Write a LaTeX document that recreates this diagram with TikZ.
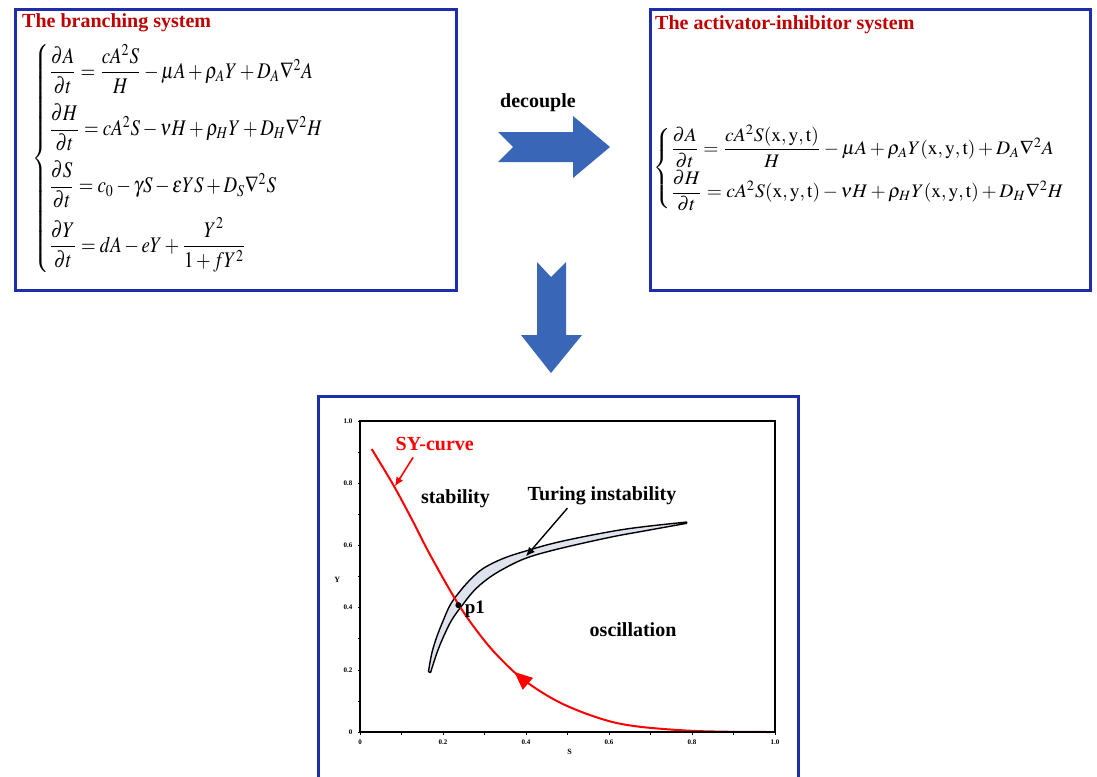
\documentclass[tikz,border=0pt]{standalone}
\usepackage{amsmath}
\usepackage{mathptmx}
\usepackage{fontspec}
\setmainfont{Liberation Serif}
\usetikzlibrary{arrows.meta}
\definecolor{boxblue}{RGB}{30,45,170}
\definecolor{arrowblue}{RGB}{58,102,184}
\definecolor{titlered}{RGB}{192,0,0}
\definecolor{bandfill}{RGB}{222,227,238}
\tikzset{
  bbox/.style={draw=boxblue,line width=3pt,fill=white,inner sep=0pt,anchor=north west},
  boxtitle/.style={anchor=base west,inner sep=0pt,text=titlered,font=\bfseries\fontsize{20}{24}\selectfont},
  blockarrow/.style={fill=arrowblue,draw=none},
  plotlabel/.style={inner sep=0pt,font=\bfseries\fontsize{20}{24}\selectfont},
  ticklabel/.style={inner sep=0pt,font=\bfseries\fontsize{7}{8}\selectfont},
  eqnode/.style={anchor=north west,inner sep=0pt}
}
\begin{document}
\begin{tikzpicture}[x=1pt,y=-1pt]
\useasboundingbox (0,0) rectangle (1097,776);
\clip (0,0) rectangle (1097,776);
% boxes
\node[bbox,minimum width=441pt,minimum height=280.5pt] (branch) at (14,8.5) {};
\node[bbox,minimum width=440.5pt,minimum height=280.5pt] (activ) at (648.5,8.5) {};
\node[bbox,minimum width=480pt,minimum height=400pt] (plotbox) at (316.5,394.5) {};
% titles
\node[boxtitle] (t1) at (22,27.5) {The branching system};
\node[boxtitle] (t2) at (655,29.5) {The activator-inhibitor system};
% equations
\node[eqnode] (eqL) at (32,44) {\resizebox*{311pt}{228pt}{$\displaystyle\begin{cases}
\dfrac{\partial A}{\partial t}=\dfrac{cA^2S}{H}-\mu A+\rho_AY+D_A\nabla^2A\\[7pt]
\dfrac{\partial H}{\partial t}=cA^2S-\nu H+\rho_HY+D_H\nabla^2H\\[7pt]
\dfrac{\partial S}{\partial t}=c_0-\gamma S-\varepsilon YS+D_S\nabla^2S\\[7pt]
\dfrac{\partial Y}{\partial t}=dA-eY+\dfrac{Y^2}{1+fY^2}
\end{cases}$}};
\node[eqnode] (eqR) at (653,125) {\resizebox*{432pt}{86pt}{$\displaystyle\begin{cases}
\dfrac{\partial A}{\partial t}=\dfrac{cA^2S(\mathrm{x,y,t})}{H}-\mu A+\rho_AY(\mathrm{x,y,t})+D_A\nabla^2A\\[4pt]
\dfrac{\partial H}{\partial t}=cA^2S(\mathrm{x,y,t})-\nu H+\rho_HY(\mathrm{x,y,t})+D_H\nabla^2H
\end{cases}$}};
% decouple arrow
\node[inner sep=0pt,font=\bfseries\fontsize{20}{24}\selectfont] (dec) at (538,103) {decouple};
\path[blockarrow] (498,132) -- (573,132) -- (573,116) -- (610,147) -- (573,178) -- (573,162) -- (498,162) -- (513,147) -- cycle;
% down arrow
\path[blockarrow] (537,262) -- (551,277) -- (566,262) -- (566,335) -- (582,335) -- (551,373) -- (521,335) -- (537,335) -- cycle;
% plot
\begin{scope}[shift={(360,732)},x=415pt,y=311pt]
  % ticks
  \foreach \v in {0,0.1,...,1.01} {
    \draw[line width=0.6pt] (\v,0) -- ++(0,-2.5pt);
    \draw[line width=0.6pt] (0,\v) -- ++(-2.5pt,0);
  }
  \foreach \v/\t in {0/0,0.2/0.2,0.4/0.4,0.6/0.6,0.8/0.8,1/1.0} {
    \node[ticklabel,anchor=north] at (\v,-0.025) {\t};
    \node[ticklabel,anchor=east] at (-0.018,\v) {\t};
  }
  \node[ticklabel,font=\bfseries\fontsize{8}{9}\selectfont] (slab) at (0.505,-0.065) {S};
  \node[ticklabel,font=\bfseries\fontsize{8}{9}\selectfont] (ylab) at (-0.055,0.49) {Y};
  % Turing band
  \filldraw[fill=bandfill,draw=black,line width=1.4pt,line join=round]
    plot[smooth,tension=0.6] coordinates {(0.165,0.194) (0.173,0.253) (0.185,0.306) (0.201,0.36) (0.217,0.408) (0.237,0.446) (0.265,0.489) (0.297,0.526) (0.345,0.558) (0.402,0.583) (0.482,0.612) (0.602,0.644) (0.683,0.660) (0.787,0.675)}
    -- plot[smooth,tension=0.6] coordinates {(0.787,0.671) (0.683,0.646) (0.602,0.626) (0.482,0.590) (0.402,0.560) (0.345,0.524) (0.305,0.490) (0.273,0.452) (0.245,0.405) (0.221,0.36) (0.201,0.306) (0.185,0.253) (0.170,0.191)}
    -- cycle;
  % SY curve
  \draw[red,line width=2pt] plot[smooth,tension=0.6] coordinates {(0.028,0.91) (0.08,0.795) (0.128,0.676) (0.17,0.567) (0.237,0.411) (0.295,0.302) (0.345,0.227) (0.40,0.162) (0.482,0.0945) (0.578,0.0438) (0.659,0.0195) (0.78,0.0052) (0.88,0.001) (0.99,0)};
  % mid arrow on SY curve
  \fill[red] (0.372,0.193) -- (0.417,0.174) -- (0.392,0.136) -- cycle;
  % p1
  \fill[black] (0.237,0.408) circle (3pt);
  \node[plotlabel,anchor=west,font=\bfseries\fontsize{19}{22}\selectfont] (p1) at (0.252,0.395) {p1};
  % frame
  \draw[line width=2pt] (0,0) rectangle (1,1);
  % labels
  \node[plotlabel,text=red] (sy) at (0.18,0.925) {SY-curve};
  \node[plotlabel] (stab) at (0.23,0.75) {stability};
  \node[plotlabel] (tur) at (0.583,0.76) {Turing instability};
  \node[plotlabel] (osc) at (0.658,0.33) {oscillation};
  \coordinate (syend) at (0.084,0.79);
  \coordinate (turend) at (0.40,0.565);
  \draw[red,line width=1.6pt,-{Latex[length=9pt,width=8pt]}] (0.128,0.883) -- (syend);
  \draw[black,line width=1.4pt,-{Latex[length=9pt,width=8pt]}] (0.50,0.72) -- (turend);
\end{scope}
\end{tikzpicture}
\end{document}
